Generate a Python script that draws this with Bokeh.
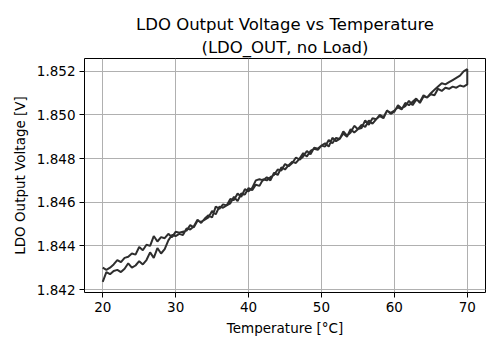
from bokeh.plotting import figure
from bokeh.models import Title, FixedTicker, NumeralTickFormatter, Range1d
from bokeh.embed import file_html
from bokeh.resources import INLINE

# Heating sweep 20 -> 70 °C (0.5 °C steps)
temp_up = [20 + 0.5 * i for i in range(101)]
volt_up = [
    1.84235, 1.84280, 1.84270, 1.84285, 1.84290, 1.84280, 1.84295, 1.84320, 1.84300, 1.84310,
    1.84330, 1.84315, 1.84335, 1.84370, 1.84345, 1.84390, 1.84365, 1.84385, 1.84425, 1.84450,
    1.84445, 1.84455, 1.84450, 1.84480, 1.84475, 1.84490, 1.84520, 1.84505, 1.84525, 1.84540,
    1.84530, 1.84580, 1.84570, 1.84590, 1.84585, 1.84615, 1.84610, 1.84640, 1.84625, 1.84660,
    1.84650, 1.84665, 1.84700, 1.84705, 1.84700, 1.84715, 1.84700, 1.84735, 1.84725, 1.84760,
    1.84750, 1.84770, 1.84785, 1.84780, 1.84800, 1.84825, 1.84810, 1.84835, 1.84845, 1.84840,
    1.84860,
    1.84870, 1.84855, 1.84895, 1.84880, 1.84890, 1.84925, 1.84905, 1.84920, 1.84950, 1.84935,
    1.84940, 1.84975, 1.84955, 1.84985, 1.84980, 1.85000, 1.84990, 1.85020, 1.85005, 1.85015,
    1.85045, 1.85030, 1.85040, 1.85065, 1.85045, 1.85070, 1.85060, 1.85090, 1.85080, 1.85100,
    1.85115, 1.85130, 1.85145, 1.85140, 1.85150, 1.85160, 1.85170, 1.85180, 1.85200, 1.85210,
]
# Cooling sweep 70 -> 20 °C (0.5 °C steps)
temp_down = [70 - 0.5 * i for i in range(101)]
volt_down = [
    1.85140, 1.85130, 1.85135, 1.85125, 1.85130, 1.85120, 1.85125, 1.85110, 1.85120, 1.85090,
    1.85095, 1.85080, 1.85085, 1.85055, 1.85075, 1.85060, 1.85045, 1.85055, 1.85025, 1.85035,
    1.85020, 1.85010, 1.85020, 1.84985, 1.84995, 1.84980, 1.84960, 1.84975, 1.84945, 1.84955,
    1.84935, 1.84920, 1.84935, 1.84900, 1.84915, 1.84890, 1.84895, 1.84870, 1.84885, 1.84855,
    1.84860,
    1.84845, 1.84850, 1.84820, 1.84835, 1.84810, 1.84795, 1.84805, 1.84780, 1.84765, 1.84775,
    1.84745, 1.84750, 1.84725, 1.84715, 1.84700, 1.84705, 1.84675, 1.84680, 1.84655, 1.84665,
    1.84635, 1.84640, 1.84605, 1.84625, 1.84595, 1.84585, 1.84575, 1.84580, 1.84545, 1.84560,
    1.84530, 1.84520, 1.84510, 1.84515, 1.84485, 1.84495, 1.84470, 1.84465, 1.84460, 1.84465,
    1.84440, 1.84455, 1.84435, 1.84440, 1.84420, 1.84445, 1.84400, 1.84405, 1.84380, 1.84395,
    1.84360, 1.84365, 1.84350, 1.84345, 1.84325, 1.84335, 1.84315, 1.84300, 1.84290, 1.84300,
]

x_ticks = [20, 30, 40, 50, 60, 70]
y_ticks = [1.842, 1.844, 1.846, 1.848, 1.850, 1.852]

temps = temp_up + temp_down
volts = volt_up + volt_down

FONT = "DejaVu Sans"

p = figure(frame_width=401, frame_height=234, min_border_left=84, min_border_right=15,
           min_border_top=58, min_border_bottom=58, output_backend="svg",
           toolbar_location=None, background_fill_color="white", border_fill_color="white")

xmin, xmax = min(temps), max(temps)
ymin, ymax = min(volts), max(volts)
xm = (xmax - xmin) * 0.05
ym = (ymax - ymin) * 0.05
p.x_range = Range1d(xmin - xm, xmax + xm)
p.y_range = Range1d(ymin - ym, ymax + ym)

p.line(temps, volts, line_color="#2e2e2e", line_width=2)

p.title.text = "LDO Output Voltage vs Temperature"
p.title.align = "center"
p.title.text_font = FONT
p.title.text_font_size = "16.5px"
p.title.text_font_style = "normal"
p.title.text_color = "black"
p.title.standoff = 0
p.add_layout(Title(text="(LDO_OUT, no Load)", align="center", text_font=FONT,
                   text_font_size="16.5px", text_font_style="normal", text_color="black",
                   standoff=4), "above")

p.outline_line_color = "black"
p.outline_line_width = 1
p.outline_line_alpha = 1

for ax in (p.xaxis[0], p.yaxis[0]):
    ax.axis_line_color = None
    ax.major_tick_in = 0
    ax.major_tick_out = 5
    ax.minor_tick_line_color = None
    ax.major_tick_line_color = "black"
    ax.major_label_text_font = FONT
    ax.major_label_text_font_size = "13.5px"
    ax.major_label_text_color = "black"
    ax.axis_label_text_font = FONT
    ax.axis_label_text_font_size = "13.5px"
    ax.axis_label_text_font_style = "normal"
    ax.axis_label_text_color = "black"

p.xaxis.ticker = FixedTicker(ticks=x_ticks)
p.yaxis.ticker = FixedTicker(ticks=y_ticks)
p.yaxis.formatter = NumeralTickFormatter(format="0.000")
p.xaxis.axis_label = "Temperature [°C]"
p.yaxis.axis_label = "LDO Output Voltage [V]"
p.xaxis.major_label_standoff = 4
p.yaxis.major_label_standoff = 4
p.xaxis.axis_label_standoff = 5
p.yaxis.axis_label_standoff = 6

p.grid.grid_line_color = "#b0b0b0"
p.grid.grid_line_width = 1

open("out.html", "w").write(file_html(p, INLINE))
